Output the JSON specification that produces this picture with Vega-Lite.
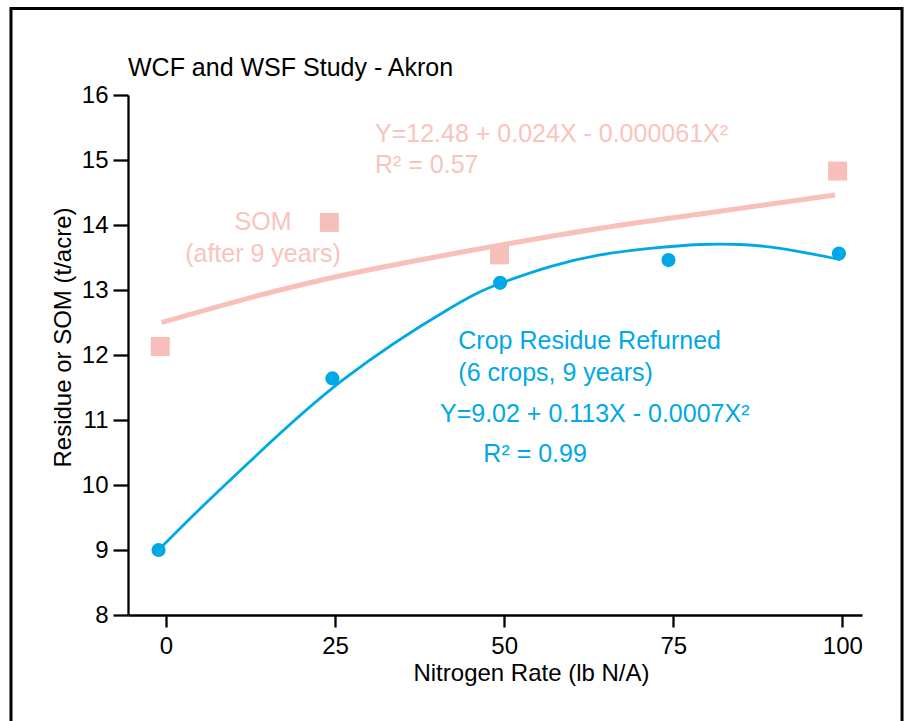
{
  "$schema": "https://vega.github.io/schema/vega-lite/v6.json",
  "width": 734,
  "height": 520,
  "autosize": {"type": "none"},
  "padding": {"left": 128, "top": 95, "right": 52, "bottom": 106},
  "background": "white",
  "config": {
    "view": {"stroke": null},
    "font": "Liberation Sans",
    "axis": {
      "domainColor": "black",
      "domainWidth": 2.3,
      "tickColor": "black",
      "tickWidth": 2.3,
      "labelColor": "black",
      "labelFontSize": 24,
      "labelFont": "Liberation Sans",
      "titleFont": "Liberation Sans",
      "titleFontSize": 24,
      "titleFontWeight": "normal",
      "titleColor": "black",
      "grid": false,
      "labelFlush": false,
      "labelOverlap": false
    }
  },
  "datasets": {
    "som_fit": [
      {"N": -0.64, "val": 12.50},
      {"N": 12.4, "val": 12.88},
      {"N": 27.2, "val": 13.25},
      {"N": 42.0, "val": 13.55},
      {"N": 49.4, "val": 13.69},
      {"N": 64.2, "val": 13.95},
      {"N": 79.0, "val": 14.17},
      {"N": 98.9, "val": 14.46}
    ],
    "som": [
      {"N": -0.85, "val": 12.13},
      {"N": 24.15, "val": 14.04},
      {"N": 49.3, "val": 13.54},
      {"N": 99.3, "val": 14.83}
    ],
    "residue_fit": [
      {"N": -1.0, "val": 9.01},
      {"N": 5.0, "val": 9.63},
      {"N": 12.4, "val": 10.36},
      {"N": 26.2, "val": 11.62},
      {"N": 42.0, "val": 12.72},
      {"N": 49.4, "val": 13.10},
      {"N": 56.8, "val": 13.36},
      {"N": 64.2, "val": 13.54},
      {"N": 71.6, "val": 13.64},
      {"N": 79.0, "val": 13.70},
      {"N": 85.0, "val": 13.70},
      {"N": 90.8, "val": 13.64},
      {"N": 98.2, "val": 13.50},
      {"N": 99.4, "val": 13.47}
    ],
    "residue": [
      {"N": -1.1, "val": 9.0},
      {"N": 24.6, "val": 11.64},
      {"N": 49.4, "val": 13.11},
      {"N": 74.3, "val": 13.46},
      {"N": 99.5, "val": 13.56}
    ]
  },
  "layer": [
    {
      "data": {"name": "som_fit"},
      "mark": {"type": "line", "color": "#f7c0b8", "strokeWidth": 5, "interpolate": "natural"},
      "encoding": {
        "x": {
          "field": "N",
          "type": "quantitative",
          "scale": {"domain": [-5.62, 102.91], "nice": false, "zero": false},
          "axis": {
            "values": [0, 25, 50, 75, 100],
            "format": "d",
            "tickSize": 12,
            "labelPadding": 7,
            "title": "Nitrogen Rate (lb N/A)",
            "titleX": 403,
            "titleY": 65,
            "titleBaseline": "alphabetic",
            "titleAlign": "center"
          }
        },
        "y": {
          "field": "val",
          "type": "quantitative",
          "scale": {"domain": [8, 16], "nice": false, "zero": false},
          "axis": {
            "values": [8, 9, 10, 11, 12, 13, 14, 15, 16],
            "format": "d",
            "tickSize": 15,
            "labelPadding": 5,
            "title": "Residue or SOM (t/acre)",
            "titleX": -58,
            "titleY": 242,
            "titleAngle": -90,
            "titleBaseline": "alphabetic",
            "titleAlign": "center"
          }
        }
      }
    },
    {
      "data": {"name": "som"},
      "mark": {"type": "point", "shape": "square", "filled": true, "size": 361, "color": "#f7bfb9", "opacity": 1},
      "encoding": {
        "x": {"field": "N", "type": "quantitative"},
        "y": {"field": "val", "type": "quantitative"}
      }
    },
    {
      "data": {"name": "residue_fit"},
      "mark": {"type": "line", "color": "#00a9e6", "strokeWidth": 2.8, "interpolate": "natural"},
      "encoding": {
        "x": {"field": "N", "type": "quantitative"},
        "y": {"field": "val", "type": "quantitative"}
      }
    },
    {
      "data": {"name": "residue"},
      "mark": {"type": "circle", "size": 200, "color": "#00a9e6", "opacity": 1},
      "encoding": {
        "x": {"field": "N", "type": "quantitative"},
        "y": {"field": "val", "type": "quantitative"}
      }
    },
    {
      "data": {"values": [{}]},
      "mark": {"type": "text", "align": "left", "baseline": "alphabetic", "fontSize": 25, "color": "black", "text": "WCF and WSF Study - Akron", "clip": false},
      "encoding": {
        "x": {"datum": -5.62, "type": "quantitative"},
        "y": {"datum": 16.29, "type": "quantitative"}
      }
    },
    {
      "data": {"values": [{}]},
      "mark": {"type": "text", "align": "left", "baseline": "alphabetic", "fontSize": 25, "color": "#f8c4bc", "lineHeight": 31, "text": ["Y=12.48 + 0.024X - 0.000061X²", "R² = 0.57"]},
      "encoding": {
        "x": {"datum": 30.9, "type": "quantitative"},
        "y": {"datum": 15.28, "type": "quantitative"}
      }
    },
    {
      "data": {"values": [{}]},
      "mark": {"type": "text", "align": "center", "baseline": "alphabetic", "fontSize": 25, "color": "#f8c4bc", "lineHeight": 32, "text": ["SOM", "(after 9 years)"]},
      "encoding": {
        "x": {"datum": 14.34, "type": "quantitative"},
        "y": {"datum": 13.93, "type": "quantitative"}
      }
    },
    {
      "data": {"values": [{}]},
      "mark": {"type": "text", "align": "left", "baseline": "alphabetic", "fontSize": 25, "color": "#00a9e6", "lineHeight": 32, "text": ["Crop Residue Refurned", "(6 crops, 9 years)"]},
      "encoding": {
        "x": {"datum": 43.22, "type": "quantitative"},
        "y": {"datum": 12.09, "type": "quantitative"}
      }
    },
    {
      "data": {"values": [{}]},
      "mark": {"type": "text", "align": "left", "baseline": "alphabetic", "fontSize": 25, "color": "#00a9e6", "text": "Y=9.02 + 0.113X - 0.0007X²"},
      "encoding": {
        "x": {"datum": 40.51, "type": "quantitative"},
        "y": {"datum": 10.97, "type": "quantitative"}
      }
    },
    {
      "data": {"values": [{}]},
      "mark": {"type": "text", "align": "left", "baseline": "alphabetic", "fontSize": 25, "color": "#00a9e6", "text": "R² = 0.99"},
      "encoding": {
        "x": {"datum": 46.92, "type": "quantitative"},
        "y": {"datum": 10.36, "type": "quantitative"}
      }
    },
    {
      "data": {"values": [{}]},
      "mark": {"type": "rect", "filled": false, "color": "black", "strokeWidth": 3, "clip": false},
      "encoding": {
        "x": {"datum": -22.92, "type": "quantitative"},
        "x2": {"datum": 108.83},
        "y": {"datum": 17.33, "type": "quantitative"},
        "y2": {"datum": 6.0}
      }
    }
  ]
}
